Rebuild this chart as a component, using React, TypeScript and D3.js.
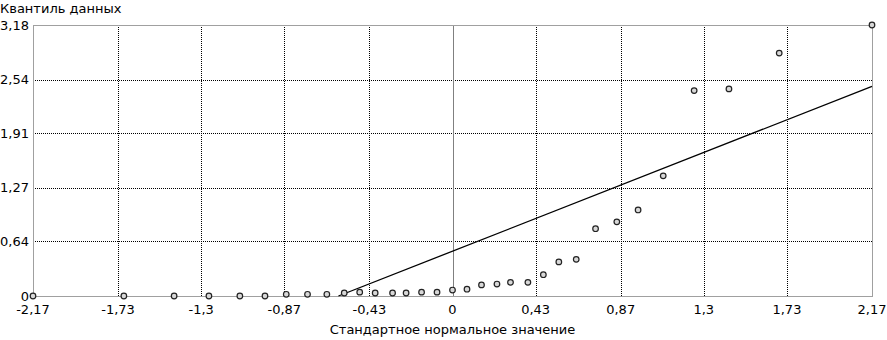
import * as d3 from "d3";

const xTicks = [-2.17, -1.73, -1.3, -0.87, -0.43, 0, 0.43, 0.87, 1.3, 1.73, 2.17];
const yTicks = [0, 0.64, 1.27, 1.91, 2.54, 3.18];

// normal quantile (x) vs. data quantile (y)
const normalQ = [
  -2.17, -1.7, -1.44, -1.26, -1.1, -0.97, -0.86, -0.75, -0.65, -0.56, -0.48,
  -0.4, -0.31, -0.24, -0.16, -0.08, 0, 0.075, 0.15, 0.23, 0.3, 0.39, 0.47,
  0.55, 0.64, 0.74, 0.85, 0.96, 1.09, 1.25, 1.43, 1.69, 2.17,
];
const dataQ = [
  0, 0, 0, 0, 0, 0, 0.02, 0.02, 0.02, 0.035, 0.045, 0.035, 0.035, 0.035,
  0.045, 0.045, 0.07, 0.08, 0.13, 0.14, 0.16, 0.16, 0.25, 0.4, 0.43, 0.79,
  0.87, 1.01, 1.41, 2.41, 2.43, 2.85, 3.18,
];

// reference line end points
const lineX = [-0.59, 2.17];
const lineY = [0, 2.46];

const W = 887;
const H = 340;
const MARGIN = { top: 25, right: 15, bottom: 44, left: 33 };
const FONT = "DejaVu Sans, Verdana, sans-serif";

const fmt = (v: number) => String(v).replace(".", ",");

export default function App() {
  const x = d3.scaleLinear().domain([-2.17, 2.17]).range([MARGIN.left, W - MARGIN.right]);
  const y = d3.scaleLinear().domain([0, 3.18]).range([H - MARGIN.bottom, MARGIN.top]);

  const [x0, x1] = x.range();
  const [y0, y1] = y.range();

  const line = d3
    .line<number>()
    .x((d) => x(lineX[d]))
    .y((d) => y(lineY[d]));

  return (
    <svg
      width={W}
      height={H}
      style={{ position: "absolute", left: 0, top: 0, background: "#fff" }}
      fontFamily={FONT}
      fontSize={13}
    >
      {/* grid */}
      {xTicks.slice(1, -1).filter((t) => t !== 0).map((t) => (
        <line
          key={"gx" + t}
          x1={Math.round(x(t)) + 0.5}
          x2={Math.round(x(t)) + 0.5}
          y1={y1}
          y2={y0}
          stroke="#000"
          strokeDasharray="1,1"
        />
      ))}
      {yTicks.slice(1, -1).map((t) => (
        <line
          key={"gy" + t}
          x1={x0}
          x2={x1}
          y1={Math.round(y(t)) + 0.5}
          y2={Math.round(y(t)) + 0.5}
          stroke="#000"
          strokeDasharray="1,1"
        />
      ))}
      {/* zero line */}
      <line
        x1={Math.round(x(0)) + 0.5}
        x2={Math.round(x(0)) + 0.5}
        y1={y1}
        y2={y0}
        stroke="#808080"
      />
      {/* frame */}
      <rect
        x={x0 + 0.5}
        y={y1 + 0.5}
        width={x1 - x0}
        height={y0 - y1}
        fill="none"
        stroke="#a0a0a0"
      />

      {/* reference line */}
      <path d={line([0, 1]) ?? ""} fill="none" stroke="#000" strokeWidth={1.3} />

      {/* points */}
      {normalQ.map((v, i) => (
        <circle
          key={i}
          cx={x(v)}
          cy={y(dataQ[i])}
          r={2.8}
          fill="#d8d8d8"
          stroke="#222"
          strokeWidth={1.2}
        />
      ))}

      {/* y tick labels */}
      {yTicks.map((t) => (
        <text key={"ty" + t} x={29} y={y(t)} dy="0.35em" textAnchor="end">
          {fmt(t)}
        </text>
      ))}
      {/* x tick labels */}
      {xTicks.map((t) => (
        <text key={"tx" + t} x={x(t)} y={y0 + 18} textAnchor="middle">
          {fmt(t)}
        </text>
      ))}

      <text x={0} y={13}>Квантиль данных</text>
      <text x={(x0 + x1) / 2} y={334} textAnchor="middle">
        Стандартное нормальное значение
      </text>
    </svg>
  );
}
